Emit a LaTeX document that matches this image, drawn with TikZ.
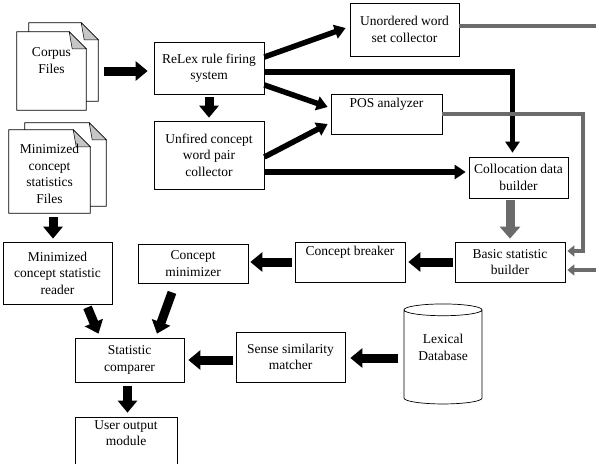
\documentclass[tikz,border=0pt]{standalone}
\usepackage{fontspec}
\setmainfont{Liberation Serif}
\usetikzlibrary{arrows.meta,shapes.geometric,backgrounds,calc}

\tikzset{
  box/.style={draw, rectangle, align=center, inner sep=2pt, line width=0.7pt},
  filetext/.style={rectangle, align=center, inner sep=2pt},
  blockarrow/.style={line width=9pt, -{Triangle[width=19pt,length=12pt]}},
  flowline/.style={line width=5.5pt, -{Triangle[width=14pt,length=11pt]}},
  grayline/.style={line width=4pt, draw=black!58},
  grayarrow/.style={grayline, -{Triangle[width=11pt,length=7pt]}},
  grayblock/.style={line width=9pt, draw=black!58, -{Triangle[width=20pt,length=12pt]}},
}

% stack of two sheets behind a file node
\newcommand{\docstack}[3]{%
  \begin{scope}[on background layer]
    \foreach \dx/\dy in {#2/#3,0/0}{
      \draw[line width=0.7pt, fill=white] let \p1=([shift={(\dx pt,\dy pt)}]#1.north west), \p2=([shift={(\dx pt,\dy pt)}]#1.south east) in
        (\x1,\y2) -- (\x1,\y1) -- (\x2-17pt,\y1) -- (\x2,\y1-17pt) -- (\x2,\y2) -- cycle;
      \draw[line width=0.5pt, fill=gray!45] let \p1=([shift={(\dx pt,\dy pt)}]#1.north west), \p2=([shift={(\dx pt,\dy pt)}]#1.south east) in
        (\x2-17pt,\y1) -- (\x2-14pt,\y1-17pt) -- (\x2,\y1-17pt) -- cycle;
    }
  \end{scope}}

\begin{document}
\begin{tikzpicture}[x=1pt, y=-1pt, font=\fontsize{13.5}{16.5}\selectfont]
  \useasboundingbox (0,0) rectangle (596,463);

  \path (51.5,71) node[filetext, minimum width=69pt, minimum height=78pt] (corpus) {Corpus\\Files\\[4pt]};
  \path (49.5,171.5) node[filetext, minimum width=81pt, minimum height=83pt] (minfiles) {\mbox{}\\[-2.5pt]Minimized\\concept\\statistics\\Files};
  \docstack{corpus}{12}{9}
  \docstack{minfiles}{16}{7}

  \path (209,68) node[box, minimum width=110pt, minimum height=52pt] (relex) {ReLex rule firing\\system};
  \path (209,155) node[box, minimum width=110pt, minimum height=68pt] (unfired) {Unfired concept\\word pair\\collector};
  \path (404.5,29.5) node[box, minimum width=109pt, minimum height=53pt] (unordered) {Unordered word\\set collector};
  \path (386.5,114) node[box, minimum width=111pt, minimum height=40pt] (pos) {POS analyzer\\\strut};
  \path (518.5,177.5) node[box, minimum width=99pt, minimum height=41pt] (colloc) {Collocation data\\builder};
  \path (510,262) node[box, minimum width=110pt, minimum height=40pt] (basic) {Basic statistic\\builder};
  \path (350,262) node[box, minimum width=110pt, minimum height=40pt] (breaker) {Concept breaker\\\strut};
  \path (193,263.5) node[box, minimum width=110pt, minimum height=39pt] (minimizer) {Concept\\minimizer};
  \path (57.5,273) node[box, minimum width=109pt, minimum height=62pt] (reader) {Minimized\\concept statistic\\reader};
  \path (129.5,360) node[box, minimum width=109pt, minimum height=44pt] (comparer) {Statistic\\comparer};
  \path (126,444) node[box, minimum width=102pt, minimum height=54pt] (userout) {User output\\module\\\strut};
  \path (290.5,357) node[box, minimum width=109pt, minimum height=50pt] (sense) {Sense similarity\\matcher};
  \path (443,358) node[cylinder, draw, line width=0.7pt, shape border rotate=90, aspect=0.22,
    minimum width=78pt, minimum height=100pt, align=center, inner sep=2pt] (lexdb) {Lexical\\Database\\\strut};

  \coordinate (edgeA) at (600,26);
  \coordinate (edgeB) at (600,270);
  \coordinate (posturn) at (583,251);

  \draw[blockarrow] ([xshift=18pt]corpus.east) -- ([xshift=-6pt]relex.west |- corpus.east);
  \draw[blockarrow] ([yshift=-3pt]relex.south) -- ([yshift=3pt]unfired.north);
  \draw[flowline] ([yshift=11pt]relex.east) -- ([xshift=-4pt,yshift=1.5pt]unordered.west);
  \draw[flowline] ([yshift=-4pt]relex.east) -| ([xshift=-6pt,yshift=4pt]colloc.north);
  \draw[flowline] ([yshift=-17pt]relex.east) -- ([xshift=-3pt,yshift=7pt]pos.west);
  \draw[flowline] ([yshift=-2pt]unfired.east) -- ([xshift=-3pt,yshift=-10pt]pos.west);
  \draw[flowline] ([yshift=-17pt]unfired.east) -- ([xshift=-3pt,yshift=5.5pt]colloc.west);

  \draw[grayline] ([yshift=3.5pt]unordered.east) -- (edgeA);
  \draw[grayarrow] (pos.east) -| (posturn) -- ([xshift=2pt]basic.east |- posturn);
  \draw[grayarrow] (edgeB) -- ([xshift=2pt]basic.east |- edgeB);
  \draw[grayblock] ([yshift=-2pt]colloc.south -| basic.north) -- ([yshift=3pt]basic.north);

  \draw[blockarrow] ([xshift=-2pt]basic.west) -- ([xshift=3pt]breaker.east);
  \draw[blockarrow] ([xshift=-3pt]breaker.west) -- ([xshift=2pt]minimizer.east |- breaker.west);
  \draw[blockarrow] ([xshift=3.5pt,yshift=-4pt]minfiles.south) -- ([xshift=-4.5pt,yshift=3pt]reader.north);
  \draw[blockarrow] ([xshift=30pt,yshift=-3pt]reader.south) -- ([xshift=-31pt,yshift=4pt]comparer.north);
  \draw[blockarrow] ([xshift=-21pt,yshift=-9pt]minimizer.south) -- ([xshift=27.5pt,yshift=4pt]comparer.north);
  \draw[blockarrow] ([xshift=-3pt]sense.west |- comparer.east) -- ([xshift=4pt]comparer.east);
  \draw[blockarrow] ([xshift=-45pt]lexdb.center) -- ([xshift=5pt]sense.east |- lexdb.center);
  \draw[blockarrow] ([xshift=-2pt,yshift=-4pt]comparer.south) -- ([xshift=1.5pt,yshift=4pt]userout.north);
\end{tikzpicture}
\end{document}
